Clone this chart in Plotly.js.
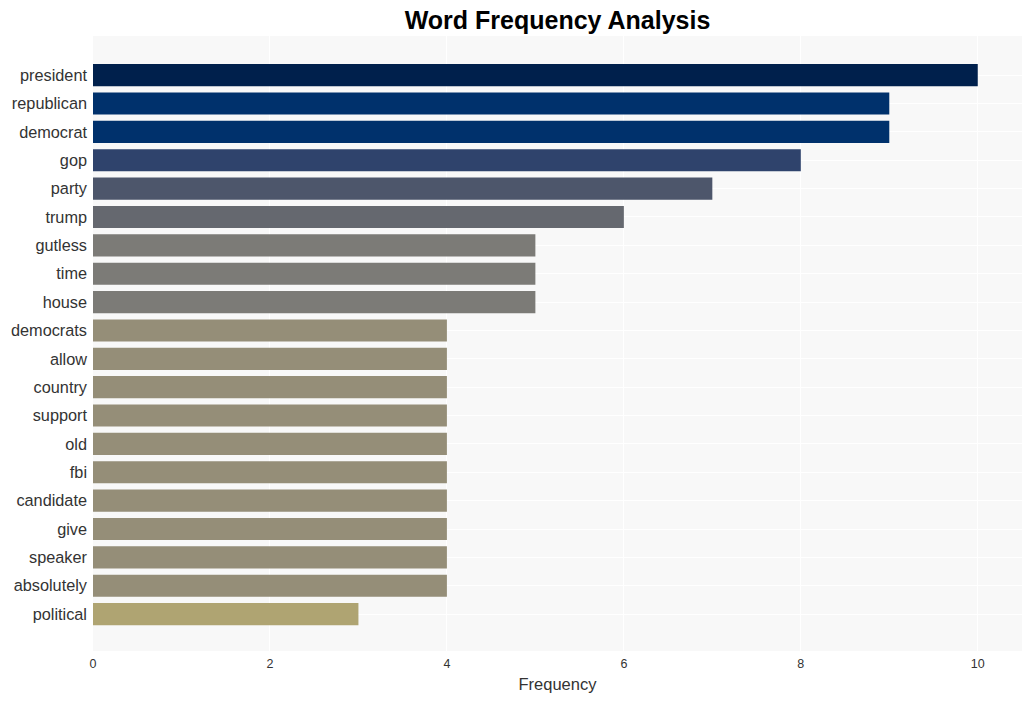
<!DOCTYPE html>
<html>
<head>
<meta charset="utf-8">
<script src="https://cdn.plot.ly/plotly-3.0.1.min.js"></script>
<style>html,body{margin:0;padding:0;background:#fff;}#chart{width:1032px;height:701px;}</style>
</head>
<body>
<div id="chart"></div>
<script>
const words = ["president","republican","democrat","gop","party","trump","gutless","time","house","democrats","allow","country","support","old","fbi","candidate","give","speaker","absolutely","political"];
const counts = [10,9,9,8,7,6,5,5,5,4,4,4,4,4,4,4,4,4,4,3];
const xTicks = [0,2,4,6,8,10];

const trace = {
  type: 'bar',
  orientation: 'h',
  x: counts,
  y: words,
  width: 0.78,
  marker: {
    color: counts,
    colorscale: 'Cividis',
    reversescale: true,
    cmin: 0,
    cmax: 10,
    line: {width: 0}
  },
  hoverinfo: 'x+y'
};

const layout = {
  width: 1032,
  height: 701,
  margin: {l: 93, r: 10, t: 36, b: 50, pad: 0},
  paper_bgcolor: '#ffffff',
  plot_bgcolor: '#f8f8f8',
  font: {family: 'Liberation Sans, Arial, sans-serif', color: '#333'},
  title: {
    text: 'Word Frequency Analysis',
    x: 0.5, xref: 'paper', xanchor: 'center',
    y: 0.9715, yref: 'container', yanchor: 'middle',
    font: {size: 25, color: '#000', family: 'Liberation Sans, Arial, sans-serif', weight: 'bold'}
  },
  xaxis: {
    range: [0, 10.5],
    tickvals: xTicks,
    ticktext: xTicks.map(String),
    tickfont: {size: 12.5, color: '#333'},
    gridcolor: '#ffffff',
    gridwidth: 1,
    zeroline: false,
    showline: false,
    ticks: '',
    ticklabelstandoff: 3,
    title: {text: 'Frequency', font: {size: 16.5, color: '#333'}, standoff: 8}
  },
  yaxis: {
    type: 'category',
    categoryorder: 'array',
    categoryarray: words,
    range: [20.3, -1.38],
    tickfont: {size: 16.3, color: '#333'},
    gridcolor: '#ffffff',
    gridwidth: 1,
    zeroline: false,
    showline: false,
    ticks: '',
    ticklabelstandoff: 5
  },
  showlegend: false,
  bargap: 0.2
};

Plotly.newPlot('chart', [trace], layout, {displayModeBar: false, responsive: false});
</script>
</body>
</html>
